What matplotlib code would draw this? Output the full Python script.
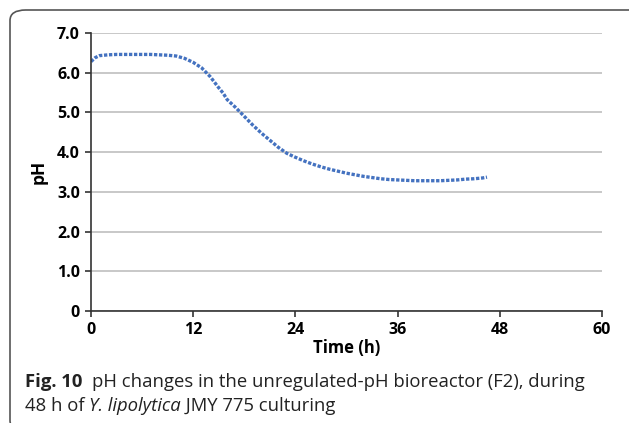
import matplotlib.pyplot as plt
from matplotlib.patches import FancyBboxPatch

# pH readings
time_h = [0, 0.5, 1, 2, 3, 4, 5, 6, 7, 8, 9, 10, 11, 12, 13, 14, 15, 15.5,
          16, 17, 18, 19, 20, 21, 22, 23, 24, 25, 26, 27, 28, 29, 30, 31,
          32, 33, 34, 35, 36, 37, 38, 39, 40, 41, 42, 43, 44, 45, 46, 46.5]
ph = [6.28, 6.38, 6.43, 6.45, 6.46, 6.46, 6.46, 6.46, 6.46, 6.45, 6.44, 6.42,
      6.36, 6.26, 6.12, 5.90, 5.62, 5.49, 5.32, 5.12, 4.90, 4.68, 4.48, 4.30,
      4.12, 3.97, 3.87, 3.78, 3.70, 3.63, 3.57, 3.52, 3.47, 3.43, 3.39, 3.36,
      3.33, 3.31, 3.30, 3.29, 3.28, 3.28, 3.28, 3.28, 3.29, 3.30, 3.32, 3.33,
      3.35, 3.37]

xticks = [0, 12, 24, 36, 48, 60]
yticks = [0, 1, 2, 3, 4, 5, 6, 7]
ytick_labels = ['0', '1.0', '2.0', '3.0', '4.0', '5.0', '6.0', '7.0']

plt.rcParams['font.family'] = ['Open Sans', 'DejaVu Sans']

fig = plt.figure(figsize=(6.29, 4.23), dpi=100)
ax = fig.add_axes([0.1447, 0.2648, 0.8123, 0.6572])

ax.plot(time_h, ph, color='#4472c0', lw=2.4, linestyle=(0, (1.0, 0.5)))

ax.set_xlim(0, 60)
ax.set_ylim(0, 7)
ax.set_xticks(xticks)
ax.set_xticklabels([str(t) for t in xticks], fontsize=11.5, fontweight='bold')
ax.set_yticks(yticks)
ax.set_yticklabels(ytick_labels, fontsize=11.5, fontweight='bold')
ax.yaxis.grid(True, color='#c8c8c8', lw=1.4)
ax.set_axisbelow(True)
for s in ['top', 'right']:
    ax.spines[s].set_visible(False)
for s in ['left', 'bottom']:
    ax.spines[s].set_color('#333333')
    ax.spines[s].set_linewidth(1.2)
ax.tick_params(axis='both', direction='out', length=4, width=1.2, color='#333333', pad=4)
ax.set_xlabel('Time (h)', fontsize=12, fontweight='bold', labelpad=1)
ax.set_ylabel('pH', fontsize=12.5, fontweight='bold', labelpad=7)

# rounded frame round the whole figure (right and bottom edges run off the page)
W, H = 629, 423
frame = FancyBboxPatch((10 / W, -8 / H), 640 / W, 421 / H,
                       boxstyle='round,pad=0,rounding_size=0.025',
                       transform=fig.transFigure, fill=False,
                       edgecolor='#555555', lw=1.2, clip_on=False)
fig.patches.append(frame)

# caption, drawn piece by piece
fig.canvas.draw()
r = fig.canvas.get_renderer()
cap_size = 13.3


def piece(x, y, s, **kw):
    t = fig.text(x, y, s, fontsize=cap_size, color='#222222',
                 transform=None, va='baseline', **kw)
    bb = t.get_window_extent(renderer=r)
    return bb.x1


y1 = H - 387
y2 = H - 411
x = piece(25, y1, 'Fig. 10', fontweight='bold')
piece(x + 10, y1, 'pH changes in the unregulated-pH bioreactor (F2), during')
x = piece(25, y2, '48 h of ')
x = piece(x, y2, 'Y. lipolytica', style='italic')
piece(x, y2, ' JMY 775 culturing')

fig.savefig('out.png', dpi=100)
